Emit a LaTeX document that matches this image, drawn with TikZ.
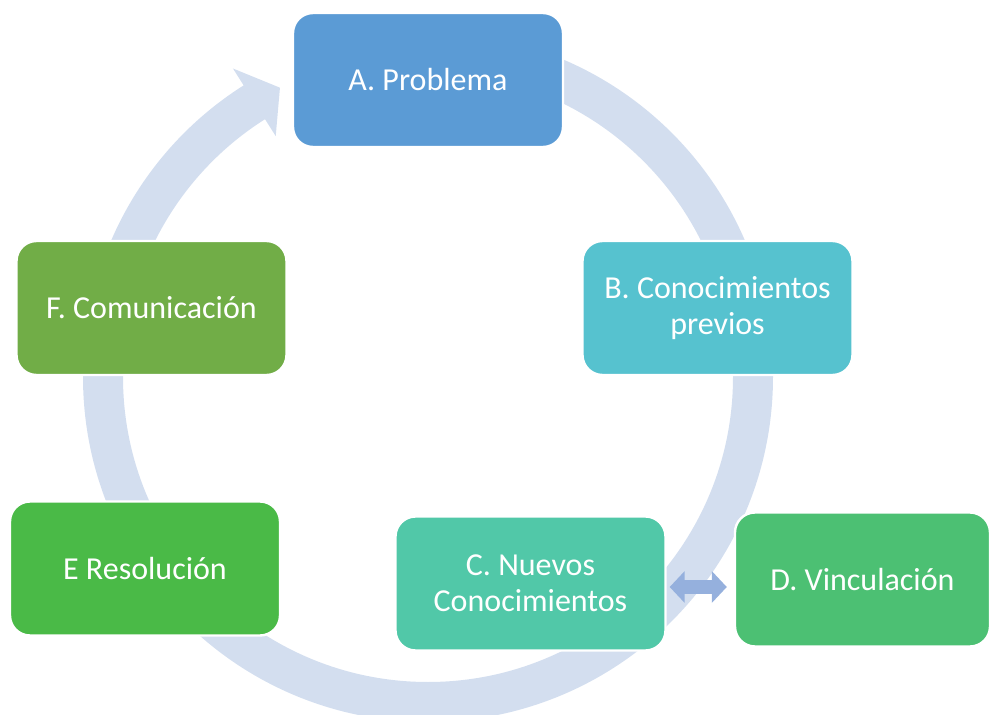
\documentclass[tikz,border=0pt]{standalone}
\usepackage{fontspec}
\setmainfont{Carlito}
\usetikzlibrary{arrows.meta,positioning,calc}
\definecolor{cy-ring}{HTML}{D3DEEF}
\definecolor{cy-link}{HTML}{95B0DD}
\definecolor{cy-a}{HTML}{5B9BD5}
\definecolor{cy-b}{HTML}{56C2CF}
\definecolor{cy-c}{HTML}{51C8A8}
\definecolor{cy-d}{HTML}{4CC073}
\definecolor{cy-e}{HTML}{4ABA47}
\definecolor{cy-f}{HTML}{71AD47}

\begin{document}
\begin{tikzpicture}[
  x=0.5pt,y=0.5pt,font=\fontsize{16}{18}\selectfont,
  stage/.style={draw=white,line width=1.2pt,rounded corners=10pt,text=white,
                minimum width=135pt,minimum height=67pt,align=center,inner sep=2pt},
  ring/.style={cy-ring,line width=20pt},
  link/.style={{Triangle[length=7.5pt,width=15.5pt]}-{Triangle[length=7.5pt,width=15.5pt]},
               cy-link,line width=7pt}
]
\useasboundingbox (0,0) rectangle (992,714);
\coordinate (ctr) at (428,337);

\draw[ring] ([shift={(ctr)}]90:325) arc[start angle=90,end angle=-238,radius=325];
\fill[cy-ring] ([shift={(ctr)}]122.3:365) -- ([shift={(ctr)}]117.1:325)
      -- ([shift={(ctr)}]122.3:285) -- cycle;

\node[stage,fill=cy-a] (prob) at (428,634)   {A. Problema};
\node[stage,fill=cy-b] (prev) at (717.5,406) {B. Conocimientos\\previos};
\node[stage,fill=cy-c] (nuev) at (530.5,130.5) {C. Nuevos\\Conocimientos};
\node[stage,fill=cy-d,minimum width=127.5pt] (vinc) at (862.5,134.5) {D. Vinculación};
\node[stage,fill=cy-e] (reso) at (145,145.5) {E Resolución};
\node[stage,fill=cy-f] (comu) at (151.5,406) {F. Comunicación};

\coordinate (lk) at ([yshift=-1.75pt]nuev.east);
\draw[link,shorten <=1.5pt,shorten >=3.5pt] (lk) -- (lk -| vinc.west);

\end{tikzpicture}
\end{document}
